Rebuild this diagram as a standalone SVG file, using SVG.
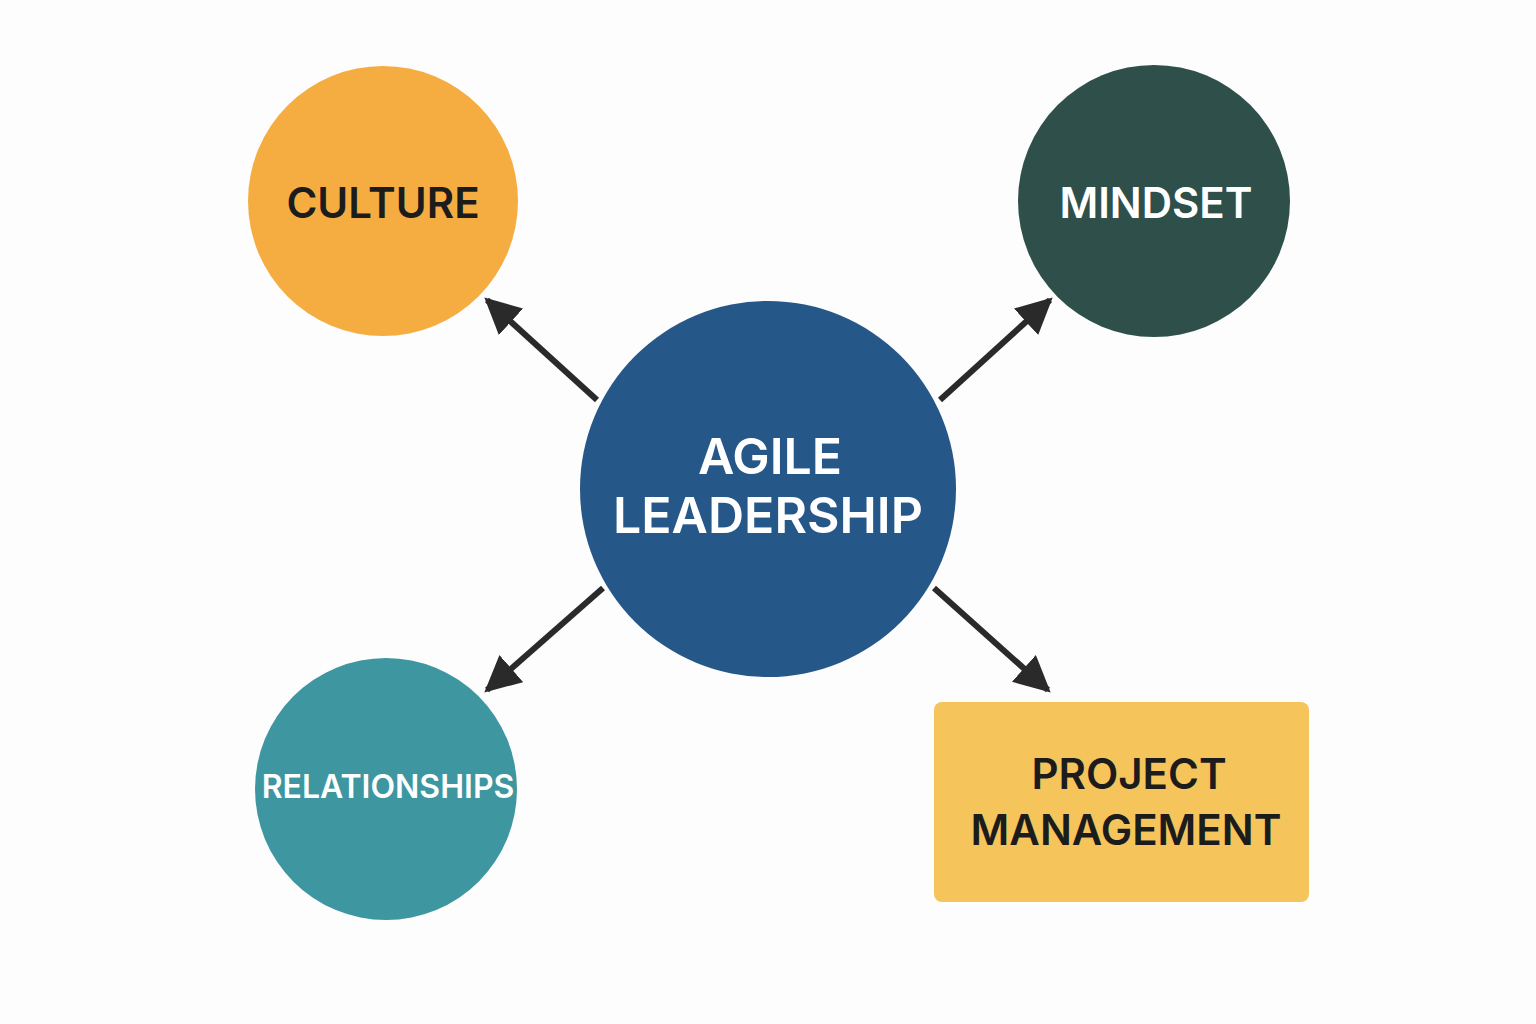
<svg xmlns="http://www.w3.org/2000/svg" width="1536" height="1024" viewBox="0 0 1536 1024">
<style>
text{font-family:Inter,"Noto Sans","Liberation Sans",sans-serif;font-weight:600;text-anchor:middle;dominant-baseline:central}
.dk{fill:#1c1c1c}.lt{fill:#ffffff}
.c line{stroke:#2a2a2a;stroke-width:6;marker-end:url(#ah)}
</style>
<defs><marker id="ah" viewBox="0 0 10 10" refX="9" refY="5" markerWidth="6" markerHeight="6" orient="auto" markerUnits="strokeWidth"><path d="M0,0L10,5L0,10z" fill="#2a2a2a"/></marker></defs>
<rect width="1536" height="1024" fill="#fdfdfd"/>
<g class="c" id="connectors">
<line x1="597" y1="400" x2="487" y2="300"/>
<line x1="940" y1="400" x2="1050" y2="300"/>
<line x1="603" y1="588" x2="487" y2="690"/>
<line x1="934" y1="588" x2="1048" y2="690"/>
</g>
<g id="center"><circle cx="768" cy="489" r="188" fill="#265789"/>
<text class="lt" x="770" y="456" font-size="50">AGILE</text>
<text class="lt" x="768" y="515" font-size="50">LEADERSHIP</text></g>
<g id="culture"><circle cx="383" cy="201" r="135" fill="#F5AD42"/>
<text class="dk" x="383" y="202" font-size="42">CULTURE</text></g>
<g id="mindset"><circle cx="1154" cy="201" r="136" fill="#2E4F4A"/>
<text class="lt" x="1156" y="202" font-size="42">MINDSET</text></g>
<g id="relationships"><circle cx="386" cy="789" r="131" fill="#3E96A0"/>
<text class="lt" x="388" y="786" font-size="32">RELATIONSHIPS</text></g>
<g id="project"><rect x="934" y="702" width="375" height="200" rx="8" fill="#F5C45A"/>
<text class="dk" x="1129" y="773" font-size="42">PROJECT</text>
<text class="dk" x="1126" y="829" font-size="42">MANAGEMENT</text></g>
</svg>
